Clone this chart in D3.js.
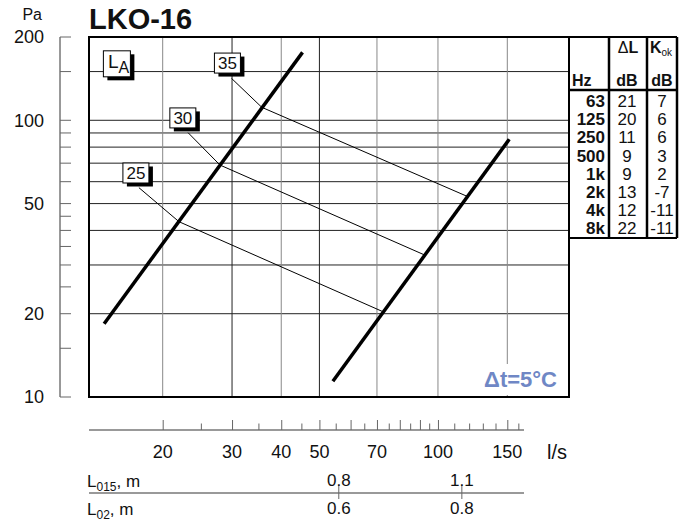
<!DOCTYPE html>
<html>
<head>
<meta charset="utf-8">
<script src="https://cdn.jsdelivr.net/npm/d3@7"></script>
<style>
  body { margin: 0; background: #fff; }
  text { font-family: "Liberation Sans", Arial, sans-serif; fill: #111; }
</style>
</head>
<body>
<div id="chart"></div>
<script>
// pressure axis, Pa
var yLabelTicks = [10, 20, 50, 100, 200];
var yMinorTicks = [15, 25, 30, 35, 40, 45, 60, 70, 80, 90, 150];
var yGridLines = [20, 30, 40, 50, 60, 70, 80, 90, 100, 150];

// flow axis, l/s
var xLabelTicks = [20, 30, 40, 50, 70, 100, 150];
var xLongTicks = [20, 30, 40, 50, 60, 70, 80, 90, 100, 150];
var xShortTicks = [25, 35, 45, 55, 65, 75, 85, 95, 110, 120, 130, 140, 160];
var xGridLines = [20, 30, 40, 50, 70, 100, 150];
var xDarkGrid = [30, 50];

// throw lengths under the flow axis
var throwFlow = [56, 115];
var l015Labels = ["0.8", "1.1"];
var l02Labels = ["0.6", "0.8"];

// thick working lines, [flow, pressure]
var lineMin = [[14.2, 18.4], [45.3, 176]];
var lineMax = [[54.1, 11.4], [151.7, 85.4]];

// LA sound level lines
var laLabels = ["35", "30", "25"];
var laBox = [[29.2, 161], [22.5, 102], [17.1, 64.5]];
var laStart = [[29.9, 141.8], [23.2, 90.2], [17.4, 57.1]];
var laOnMin = [[35.7, 111.4], [27.96, 68.9], [22.0, 43.0]];
var laOnMax = [[119, 53.0], [92.5, 32.6], [72.7, 20.3]];
var laTitle = [15.3, 160];

// correction table
var hz = ["63", "125", "250", "500", "1k", "2k", "4k", "8k"];
var deltaL = [21, 20, 11, 9, 9, 13, 12, 22];
var kok = [7, 6, 6, 3, 2, -7, -11, -11];

var svgWidth = 694;
var svgHeight = 524;

var plot = { left: 89, right: 569, top: 37, bottom: 397 };

var svg = d3.select("#chart")
  .append("svg")
  .attr("width", svgWidth)
  .attr("height", svgHeight);

var x = d3.scaleLog().domain([20, 150]).range([162.7, 507.3]);
var y = d3.scaleLog().domain([10, 200]).range([plot.bottom, plot.top]);

// title
svg.append("text")
  .attr("x", 89).attr("y", 29)
  .attr("font-size", "29px").attr("font-weight", "bold")
  .text("LKO-16");

svg.append("text")
  .attr("x", 42).attr("y", 20)
  .attr("text-anchor", "end")
  .attr("font-size", "16px")
  .text("Pa");

// grid
svg.selectAll(".hgrid")
  .data(yGridLines)
  .enter()
  .append("line")
  .attr("x1", plot.left).attr("x2", plot.right)
  .attr("y1", d => y(d)).attr("y2", d => y(d))
  .attr("stroke", "#222").attr("stroke-width", 1);

svg.selectAll(".vgrid")
  .data(xGridLines)
  .enter()
  .append("line")
  .attr("x1", d => x(d)).attr("x2", d => x(d))
  .attr("y1", plot.top).attr("y2", plot.bottom)
  .attr("stroke", d => xDarkGrid.includes(d) ? "#222" : "#888")
  .attr("stroke-width", 1);

// left pressure axis
svg.append("line")
  .attr("x1", 60).attr("x2", 60)
  .attr("y1", y(200)).attr("y2", y(10))
  .attr("stroke", "#333");

svg.selectAll(".ytick")
  .data(yLabelTicks.concat(yMinorTicks))
  .enter()
  .append("line")
  .attr("x1", 60).attr("x2", 71)
  .attr("y1", d => y(d)).attr("y2", d => y(d))
  .attr("stroke", "#666");

svg.selectAll(".ylabel")
  .data(yLabelTicks)
  .enter()
  .append("text")
  .attr("x", 44)
  .attr("y", d => y(d))
  .attr("dy", "0.35em")
  .attr("text-anchor", "end")
  .attr("font-size", "18px")
  .text(d => d);

// bottom flow axis
var axisY = 430;
svg.append("line")
  .attr("x1", plot.left).attr("x2", 524)
  .attr("y1", axisY).attr("y2", axisY)
  .attr("stroke", "#777").attr("stroke-width", 1.5);

svg.append("g")
  .attr("transform", `translate(0, ${axisY})`)
  .call(d3.axisTop(x).tickValues(xLongTicks).tickSize(10).tickFormat(""));
svg.append("g")
  .attr("transform", `translate(0, ${axisY})`)
  .call(d3.axisTop(x).tickValues(xShortTicks).tickSize(6.5).tickFormat(""));
svg.selectAll(".domain").remove();
svg.selectAll(".tick line").attr("stroke", "#666");

svg.selectAll(".xlabel")
  .data(xLabelTicks)
  .enter()
  .append("text")
  .attr("x", d => x(d))
  .attr("y", 452)
  .attr("dy", "0.35em")
  .attr("text-anchor", "middle")
  .attr("font-size", "18px")
  .text(d => d);

svg.append("text")
  .attr("x", 557).attr("y", 452)
  .attr("dy", "0.35em")
  .attr("text-anchor", "middle")
  .attr("font-size", "20px")
  .text("l/s");

// throw length rows
var l015 = svg.append("text").attr("x", 87).attr("y", 487).attr("font-size", "17px");
l015.append("tspan").text("L");
l015.append("tspan").attr("font-size", "12px").attr("dy", 4).text("015");
l015.append("tspan").attr("dy", -4).text(", m");

var l02 = svg.append("text").attr("x", 87).attr("y", 515).attr("font-size", "17px");
l02.append("tspan").text("L");
l02.append("tspan").attr("font-size", "12px").attr("dy", 4).text("02");
l02.append("tspan").attr("dy", -4).text(", m");

svg.append("line")
  .attr("x1", plot.left).attr("x2", 524)
  .attr("y1", 493).attr("y2", 493)
  .attr("stroke", "#777").attr("stroke-width", 1.5);

svg.selectAll(".throwtick")
  .data(throwFlow)
  .enter()
  .append("line")
  .attr("x1", d => x(d)).attr("x2", d => x(d))
  .attr("y1", 485).attr("y2", 499)
  .attr("stroke", "#666");

svg.selectAll(".l015")
  .data(throwFlow)
  .enter()
  .append("text")
  .attr("x", d => x(d)).attr("y", 486)
  .attr("text-anchor", "middle")
  .attr("font-size", "17px")
  .text((d, i) => l015Labels[i]);

svg.selectAll(".l02")
  .data(throwFlow)
  .enter()
  .append("text")
  .attr("x", d => x(d)).attr("y", 514)
  .attr("text-anchor", "middle")
  .attr("font-size", "17px")
  .text((d, i) => l02Labels[i]);

// delta t note
svg.append("rect")
  .attr("x", 474).attr("y", 364)
  .attr("width", 90).attr("height", 31)
  .attr("fill", "#fff");
svg.append("text")
  .attr("x", 557).attr("y", 387)
  .attr("text-anchor", "end")
  .attr("font-size", "22px").attr("font-weight", "bold")
  .style("fill", "#6f87c5")
  .text("Δt=5°C");

// LA lines
var line = d3.line().x(d => x(d[0])).y(d => y(d[1]));

svg.selectAll(".la")
  .data(laLabels)
  .enter()
  .append("path")
  .attr("d", (d, i) => line([laStart[i], laOnMin[i], laOnMax[i]]))
  .attr("fill", "none")
  .attr("stroke", "#000")
  .attr("stroke-width", 1);

// thick working lines
[lineMin, lineMax].forEach(function (pts) {
  svg.append("path")
    .attr("d", line(pts))
    .attr("fill", "none")
    .attr("stroke", "#000")
    .attr("stroke-width", 3.5);
});

// LA boxes
var boxes = svg.selectAll(".labox")
  .data(laLabels)
  .enter()
  .append("g")
  .attr("transform", (d, i) => `translate(${x(laBox[i][0])}, ${y(laBox[i][1])})`);
boxes.append("rect")
  .attr("x", -13 + 4).attr("y", -10 + 3.5)
  .attr("width", 26).attr("height", 20)
  .attr("fill", "#000");
boxes.append("rect")
  .attr("x", -13).attr("y", -10)
  .attr("width", 26).attr("height", 20)
  .attr("fill", "#fff").attr("stroke", "#000");
boxes.append("text")
  .attr("text-anchor", "middle")
  .attr("dy", "0.36em")
  .attr("font-size", "17px")
  .text(d => d);

var titleBox = svg.append("g")
  .attr("transform", `translate(${x(laTitle[0])}, ${y(laTitle[1])})`);
titleBox.append("rect")
  .attr("x", -13.5 + 4).attr("y", -13 + 3.5)
  .attr("width", 27).attr("height", 26)
  .attr("fill", "#000");
titleBox.append("rect")
  .attr("x", -13.5).attr("y", -13)
  .attr("width", 27).attr("height", 26)
  .attr("fill", "#fff").attr("stroke", "#000");
var laText = titleBox.append("text")
  .attr("x", -9).attr("y", 4)
  .attr("font-size", "19px");
laText.append("tspan").text("L");
laText.append("tspan").attr("font-size", "16px").attr("dy", 5).text("A");

// plot frame
svg.append("rect")
  .attr("x", plot.left).attr("y", plot.top)
  .attr("width", plot.right - plot.left)
  .attr("height", plot.bottom - plot.top)
  .attr("fill", "none")
  .attr("stroke", "#000").attr("stroke-width", 2);

// table
var tab = { left: plot.right, c1: 609, c2: 647, right: 677, top: plot.top, head: 90, bottom: 238 };

var rowY = d3.scaleBand().domain(hz).range([92, 237]);

svg.append("line")
  .attr("x1", tab.left).attr("x2", tab.right)
  .attr("y1", tab.top).attr("y2", tab.top)
  .attr("stroke", "#000").attr("stroke-width", 2);
svg.append("line")
  .attr("x1", tab.left).attr("x2", tab.right)
  .attr("y1", tab.head).attr("y2", tab.head)
  .attr("stroke", "#000").attr("stroke-width", 2.5);
svg.append("line")
  .attr("x1", tab.left).attr("x2", tab.right)
  .attr("y1", tab.bottom).attr("y2", tab.bottom)
  .attr("stroke", "#000").attr("stroke-width", 2);
[tab.c1, tab.c2, tab.right].forEach(function (cx) {
  svg.append("line")
    .attr("x1", cx).attr("x2", cx)
    .attr("y1", tab.top).attr("y2", tab.bottom)
    .attr("stroke", "#000").attr("stroke-width", 2.5);
});

var dl = svg.append("text")
  .attr("x", 628).attr("y", 53)
  .attr("text-anchor", "middle")
  .attr("font-size", "16px");
dl.append("tspan").attr("font-weight", "normal").text("Δ");
dl.append("tspan").attr("font-weight", "bold").text("L");

var kk = svg.append("text")
  .attr("x", 661).attr("y", 53)
  .attr("text-anchor", "middle")
  .attr("font-size", "16px").attr("font-weight", "bold");
kk.append("tspan").text("K");
kk.append("tspan").attr("font-size", "10px").attr("font-weight", "normal").attr("dy", 3).text("ok");

svg.append("text").attr("x", 572).attr("y", 86)
  .attr("font-size", "16px").attr("font-weight", "bold").text("Hz");
svg.append("text").attr("x", 627).attr("y", 86).attr("text-anchor", "middle")
  .attr("font-size", "16px").attr("font-weight", "bold").text("dB");
svg.append("text").attr("x", 662).attr("y", 86).attr("text-anchor", "middle")
  .attr("font-size", "16px").attr("font-weight", "bold").text("dB");

svg.selectAll(".hz")
  .data(hz)
  .enter()
  .append("text")
  .attr("x", 605)
  .attr("y", d => rowY(d) + rowY.bandwidth() / 2)
  .attr("dy", "0.36em")
  .attr("text-anchor", "end")
  .attr("font-size", "17px").attr("font-weight", "bold")
  .text(d => d);

svg.selectAll(".dl")
  .data(deltaL)
  .enter()
  .append("text")
  .attr("x", 627)
  .attr("y", (d, i) => rowY(hz[i]) + rowY.bandwidth() / 2)
  .attr("dy", "0.36em")
  .attr("text-anchor", "middle")
  .attr("font-size", "17px")
  .text(d => d);

svg.selectAll(".kok")
  .data(kok)
  .enter()
  .append("text")
  .attr("x", 662)
  .attr("y", (d, i) => rowY(hz[i]) + rowY.bandwidth() / 2)
  .attr("dy", "0.36em")
  .attr("text-anchor", "middle")
  .attr("font-size", "17px")
  .text(d => d);
</script>
</body>
</html>
